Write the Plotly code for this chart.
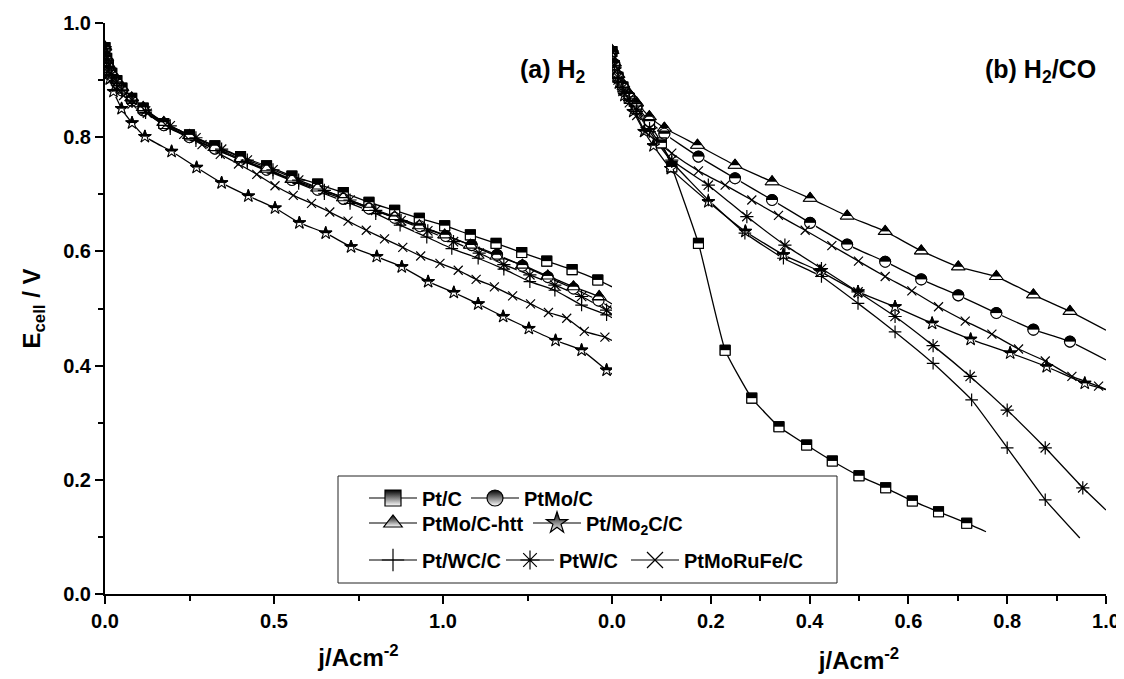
import plotly.graph_objects as go

# ---------------- data ----------------
# Panel (a): H2 feed, x = j / A cm^-2, y = Ecell / V ; last point of each list = line end (no marker)
A_PTC_X = [0.0, 0.005, 0.01, 0.02, 0.035, 0.05, 0.079, 0.113, 0.174, 0.250, 0.325, 0.401, 0.478, 0.553, 0.629, 0.705, 0.781, 0.857, 0.930, 1.005, 1.081, 1.157, 1.233, 1.307, 1.382, 1.458, 1.50]
A_PTC_Y = [0.957, 0.938, 0.926, 0.912, 0.899, 0.886, 0.868, 0.851, 0.824, 0.804, 0.785, 0.766, 0.750, 0.732, 0.718, 0.703, 0.686, 0.672, 0.658, 0.645, 0.629, 0.614, 0.598, 0.583, 0.568, 0.550, 0.538]
A_PTMO_X = [0.0, 0.005, 0.01, 0.02, 0.035, 0.05, 0.079, 0.113, 0.174, 0.250, 0.325, 0.401, 0.478, 0.553, 0.629, 0.705, 0.781, 0.857, 0.932, 1.008, 1.085, 1.160, 1.235, 1.310, 1.386, 1.460, 1.50]
A_PTMO_Y = [0.955, 0.935, 0.922, 0.908, 0.895, 0.882, 0.864, 0.847, 0.821, 0.800, 0.780, 0.760, 0.743, 0.725, 0.708, 0.692, 0.675, 0.659, 0.644, 0.627, 0.611, 0.594, 0.575, 0.555, 0.535, 0.514, 0.500]
A_HTT_X = [0.0, 0.005, 0.01, 0.02, 0.035, 0.05, 0.079, 0.113, 0.174, 0.250, 0.325, 0.401, 0.478, 0.553, 0.629, 0.705, 0.781, 0.857, 0.930, 1.005, 1.081, 1.159, 1.235, 1.310, 1.386, 1.462, 1.50]
A_HTT_Y = [0.958, 0.940, 0.927, 0.913, 0.900, 0.887, 0.869, 0.852, 0.826, 0.803, 0.782, 0.762, 0.744, 0.726, 0.711, 0.694, 0.677, 0.661, 0.645, 0.629, 0.611, 0.592, 0.576, 0.557, 0.538, 0.521, 0.508]
A_MO2C_X = [0.0, 0.006, 0.014, 0.025, 0.049, 0.080, 0.118, 0.197, 0.271, 0.345, 0.424, 0.503, 0.575, 0.653, 0.728, 0.804, 0.878, 0.956, 1.032, 1.104, 1.178, 1.254, 1.333, 1.410, 1.484, 1.50]
A_MO2C_Y = [0.955, 0.928, 0.902, 0.880, 0.850, 0.825, 0.801, 0.775, 0.747, 0.720, 0.697, 0.676, 0.650, 0.632, 0.608, 0.591, 0.573, 0.547, 0.528, 0.508, 0.486, 0.465, 0.444, 0.427, 0.392, 0.385]
A_WC_X = [0.0, 0.005, 0.01, 0.02, 0.035, 0.05, 0.08, 0.12, 0.193, 0.269, 0.345, 0.421, 0.497, 0.573, 0.649, 0.725, 0.801, 0.873, 0.952, 1.026, 1.104, 1.180, 1.257, 1.331, 1.410, 1.484, 1.50]
A_WC_Y = [0.955, 0.935, 0.922, 0.908, 0.894, 0.881, 0.862, 0.843, 0.815, 0.794, 0.774, 0.755, 0.737, 0.719, 0.701, 0.684, 0.666, 0.646, 0.625, 0.605, 0.588, 0.569, 0.547, 0.532, 0.506, 0.489, 0.484]
A_W_X = [0.0, 0.005, 0.01, 0.02, 0.035, 0.05, 0.08, 0.12, 0.193, 0.269, 0.345, 0.421, 0.497, 0.573, 0.649, 0.725, 0.801, 0.876, 0.955, 1.031, 1.107, 1.180, 1.257, 1.331, 1.410, 1.484, 1.50]
A_W_Y = [0.956, 0.937, 0.924, 0.910, 0.897, 0.884, 0.865, 0.846, 0.820, 0.799, 0.779, 0.760, 0.743, 0.725, 0.707, 0.690, 0.672, 0.654, 0.636, 0.617, 0.597, 0.577, 0.559, 0.541, 0.521, 0.497, 0.490]
A_RUFE_X = [0.0, 0.005, 0.01, 0.02, 0.035, 0.055, 0.08, 0.125, 0.179, 0.233, 0.287, 0.341, 0.395, 0.449, 0.503, 0.557, 0.611, 0.665, 0.719, 0.773, 0.827, 0.881, 0.934, 0.991, 1.045, 1.098, 1.152, 1.206, 1.259, 1.312, 1.366, 1.418, 1.479, 1.50]
A_RUFE_Y = [0.955, 0.932, 0.918, 0.902, 0.888, 0.873, 0.858, 0.842, 0.822, 0.805, 0.787, 0.770, 0.753, 0.735, 0.715, 0.698, 0.684, 0.669, 0.653, 0.637, 0.622, 0.607, 0.592, 0.579, 0.567, 0.551, 0.538, 0.522, 0.508, 0.493, 0.483, 0.460, 0.450, 0.444]

# Panel (b): H2/CO feed
B_PTC_X = [0.0, 0.005, 0.012, 0.022, 0.035, 0.05, 0.076, 0.100, 0.121, 0.175, 0.229, 0.283, 0.338, 0.394, 0.446, 0.500, 0.554, 0.608, 0.661, 0.718, 0.757]
B_PTC_Y = [0.950, 0.925, 0.905, 0.888, 0.868, 0.850, 0.822, 0.790, 0.748, 0.614, 0.427, 0.343, 0.293, 0.261, 0.233, 0.207, 0.186, 0.163, 0.144, 0.124, 0.109]
B_PTMO_X = [0.0, 0.005, 0.012, 0.022, 0.035, 0.05, 0.0756, 0.106, 0.175, 0.249, 0.324, 0.401, 0.476, 0.553, 0.626, 0.701, 0.778, 0.853, 0.927, 1.0]
B_PTMO_Y = [0.950, 0.928, 0.907, 0.889, 0.871, 0.854, 0.828, 0.806, 0.766, 0.728, 0.690, 0.650, 0.612, 0.582, 0.551, 0.523, 0.492, 0.463, 0.442, 0.410]
B_HTT_X = [0.0, 0.005, 0.012, 0.022, 0.035, 0.05, 0.0756, 0.106, 0.173, 0.249, 0.324, 0.401, 0.476, 0.553, 0.626, 0.701, 0.778, 0.853, 0.927, 1.0]
B_HTT_Y = [0.952, 0.930, 0.910, 0.893, 0.876, 0.860, 0.836, 0.816, 0.786, 0.751, 0.722, 0.693, 0.662, 0.635, 0.601, 0.573, 0.556, 0.524, 0.495, 0.462]
B_MO2C_X = [0.0, 0.006, 0.014, 0.025, 0.043, 0.065, 0.084, 0.119, 0.195, 0.270, 0.347, 0.421, 0.498, 0.573, 0.648, 0.726, 0.806, 0.880, 0.957, 1.0]
B_MO2C_Y = [0.948, 0.918, 0.895, 0.873, 0.845, 0.810, 0.785, 0.745, 0.687, 0.635, 0.594, 0.565, 0.529, 0.503, 0.474, 0.446, 0.422, 0.398, 0.369, 0.358]
B_WC_X = [0.0, 0.005, 0.012, 0.022, 0.035, 0.05, 0.076, 0.121, 0.195, 0.269, 0.347, 0.424, 0.498, 0.573, 0.650, 0.728, 0.800, 0.877, 0.947]
B_WC_Y = [0.950, 0.925, 0.903, 0.884, 0.864, 0.845, 0.810, 0.757, 0.690, 0.632, 0.588, 0.556, 0.509, 0.459, 0.404, 0.340, 0.256, 0.165, 0.098]
B_W_X = [0.0, 0.005, 0.012, 0.022, 0.035, 0.05, 0.076, 0.121, 0.195, 0.273, 0.350, 0.424, 0.498, 0.573, 0.650, 0.725, 0.800, 0.877, 0.953, 1.0]
B_W_Y = [0.950, 0.926, 0.905, 0.887, 0.867, 0.849, 0.815, 0.760, 0.716, 0.661, 0.611, 0.570, 0.529, 0.486, 0.435, 0.381, 0.322, 0.256, 0.186, 0.147]
B_RUFE_X = [0.0, 0.005, 0.012, 0.022, 0.035, 0.05, 0.067, 0.121, 0.175, 0.229, 0.283, 0.337, 0.391, 0.445, 0.499, 0.553, 0.607, 0.661, 0.715, 0.769, 0.823, 0.877, 0.931, 0.985, 1.0]
B_RUFE_Y = [0.950, 0.925, 0.900, 0.880, 0.860, 0.838, 0.810, 0.772, 0.741, 0.716, 0.690, 0.663, 0.637, 0.610, 0.583, 0.556, 0.531, 0.503, 0.478, 0.455, 0.429, 0.408, 0.381, 0.364, 0.358]

NAMES = ["Pt/C", "PtMo/C", "PtMo/C-htt", "Pt/Mo<sub>2</sub>C/C", "Pt/WC/C", "PtW/C", "PtMoRuFe/C"]
X_TICKS_A = [0.0, 0.5, 1.0]
X_MINOR_A = [0.25, 0.75, 1.25]
X_TITLE = "j/Acm<sup>-2</sup>"
Y_TITLE = "E<sub>cell</sub> / V"
PANEL_LABELS = ["(a) H<sub>2</sub>", "(b) H<sub>2</sub>/CO"]

# ---------------- layout geometry (page pixels; page body has an 8 px margin) ----------------
OFF = 8
PAGE_W, PAGE_H = 1124, 679
PL, PR, PT, PB = 105, 1106, 23, 594      # plot area in page pixels
W, H = PAGE_W - OFF, PAGE_H - OFF
ML, MT = PL - OFF, PT - OFF
MR = W - (PR - OFF)
MB = H - (PB - OFF)
PW = PR - PL
PH = PB - PT
XDIV = (612 - PL) / PW
FONT = "Liberation Sans, Arial, Helvetica, sans-serif"
BLACK = "#000000"


def sr(px):
    d = px / PH
    return [d, 1 + d]


def px_x(p):
    return (p - PL) / PW


def px_y(p):
    return (PB - p) / PH


# style per series: symbol, size, half-fill axis, bar length (px), bar thickness (px)
STYLES = [
    dict(sym="square", size=10, half=("y4", 10.0, 5.0)),
    dict(sym="circle", size=11, half=("y5", 11.5, 5.5)),
    dict(sym="triangle-up", size=12, half=("y6", 13.9, 3.0)),
    dict(sym="star", size=9.5, half=("y5", 8.2, 5.4)),
    dict(sym="cross-thin-open", size=9, half=None),
    dict(sym="asterisk-open", size=11, half=None),
    dict(sym="x-thin-open", size=9, half=None),
]
DATA_A = [(A_PTC_X, A_PTC_Y), (A_PTMO_X, A_PTMO_Y), (A_HTT_X, A_HTT_Y), (A_MO2C_X, A_MO2C_Y),
          (A_WC_X, A_WC_Y), (A_W_X, A_W_Y), (A_RUFE_X, A_RUFE_Y)]
DATA_B = [(B_PTC_X, B_PTC_Y), (B_PTMO_X, B_PTMO_Y), (B_HTT_X, B_HTT_Y), (B_MO2C_X, B_MO2C_Y),
          (B_WC_X, B_WC_Y), (B_W_X, B_W_Y), (B_RUFE_X, B_RUFE_Y)]

fig = go.Figure()

for xa, data in (("x", DATA_A), ("x2", DATA_B)):
    for (xs, ys) in data:
        fig.add_trace(go.Scatter(x=xs, y=ys, xaxis=xa, yaxis="y", mode="lines",
                                 line=dict(color=BLACK, width=1.3, shape="spline", smoothing=0.4),
                                 showlegend=False, hoverinfo="skip"))
    for (xs, ys), st in zip(data, STYLES):
        if st["half"]:
            fig.add_trace(go.Scatter(x=xs[:-1], y=ys[:-1], xaxis=xa, yaxis="y", mode="markers",
                                     marker=dict(symbol=st["sym"], size=st["size"], color=BLACK,
                                                 line=dict(color=BLACK, width=1)),
                                     showlegend=False, hoverinfo="skip"))
    for (xs, ys), st in zip(data, STYLES):
        if st["half"]:
            ax, blen, bth = st["half"]
            fig.add_trace(go.Scatter(x=xs[:-1], y=ys[:-1], xaxis=xa, yaxis=ax, mode="markers",
                                     marker=dict(symbol="line-ew", size=blen / 1.4, color="white",
                                                 line=dict(color="white", width=bth)),
                                     showlegend=False, hoverinfo="skip"))
    for (xs, ys), st in zip(data, STYLES):
        if st["half"]:
            sym = st["sym"] + "-open"
            lw = 1.1
        else:
            sym = st["sym"]
            lw = 1.2
        fig.add_trace(go.Scatter(x=xs[:-1], y=ys[:-1], xaxis=xa, yaxis="y7", mode="markers",
                                 marker=dict(symbol=sym, size=st["size"], color=BLACK,
                                             line=dict(color=BLACK, width=lw)),
                                 showlegend=False, hoverinfo="skip"))

# one legend per entry so that each can be placed like the reference (3 rows: 2 / 2 / 3)
LEG_KEYS = ["legend", "legend2", "legend3", "legend4", "legend5", "legend6", "legend7"]
LEG_POS = [(368, 498), (470, 498), (368, 523), (532, 523), (368, 560), (505, 560), (630, 560)]
for name, st, lg in zip(NAMES, STYLES, LEG_KEYS):
    mk = dict(symbol=st["sym"], size=16, color=BLACK, line=dict(color=BLACK, width=1.2))
    if st["half"]:
        mk["gradient"] = dict(type="vertical", color="white")
    fig.add_trace(go.Scatter(x=[None], y=[None], xaxis="x", yaxis="y", mode="lines+markers",
                             name=name, legend=lg, line=dict(color=BLACK, width=1.2), marker=mk))

tickfont = dict(family=FONT, size=20, color=BLACK, weight="bold")
titlefont = dict(family=FONT, size=24, color=BLACK, weight="bold")
common = dict(showgrid=False, zeroline=False, linecolor=BLACK, linewidth=2, tickcolor=BLACK,
              tickwidth=1.5, automargin=False)

fig.update_layout(
    template="none",
    width=W, height=H, autosize=False,
    margin=dict(l=ML, r=MR, t=MT, b=MB, pad=0, autoexpand=False),
    paper_bgcolor="white", plot_bgcolor="white",
    font=dict(family=FONT, color=BLACK),
    xaxis=dict(domain=[0, XDIV], range=[0, 1.5], anchor="y", showline=True, ticks="outside",
               ticklen=8, tickmode="array", tickvals=X_TICKS_A, tickformat=".1f", tickfont=tickfont,
               minor=dict(tickmode="array", tickvals=X_MINOR_A, ticks="outside", ticklen=5,
                          tickwidth=1.5, tickcolor=BLACK),
               title=dict(text=X_TITLE, font=titlefont, standoff=18), **common),
    xaxis2=dict(domain=[XDIV, 1], range=[0, 1.0], anchor="y", showline=True, ticks="outside",
                ticklen=8, dtick=0.2, tick0=0, tickformat=".1f", tickfont=tickfont,
                minor=dict(dtick=0.1, ticks="outside", ticklen=5, tickwidth=1.5, tickcolor=BLACK),
                title=dict(text=X_TITLE, font=titlefont, standoff=21), **common),
    xaxis3=dict(overlaying="x", side="top", anchor="y", range=[0, 1.5], showline=True,
                ticks="inside", ticklen=7, dtick=0.25, tick0=0, showticklabels=False, **common),
    xaxis4=dict(overlaying="x2", side="top", anchor="y", range=[0, 1.0], showline=True,
                ticks="inside", ticklen=7, dtick=0.1, tick0=0, showticklabels=False, **common),
    yaxis=dict(domain=[0, 1], range=[0, 1.0], anchor="x", showline=True, ticks="outside",
               ticklen=8, dtick=0.2, tick0=0, tickformat=".1f", tickfont=tickfont,
               minor=dict(dtick=0.1, ticks="outside", ticklen=5, tickwidth=1.5, tickcolor=BLACK),
               title=dict(text=Y_TITLE, font=titlefont, standoff=16), **common),
    yaxis2=dict(overlaying="y", side="right", anchor="x", range=[0, 1.0], showline=True,
                ticks="inside", ticklen=7, dtick=0.1, tick0=0, showticklabels=False, **common),
    yaxis3=dict(overlaying="y", side="right", anchor="x2", range=[0, 0.9], showline=True,
                ticks="inside", ticklen=7, dtick=0.1, tick0=0, showticklabels=False, **common),
    yaxis4=dict(overlaying="y", anchor="x", range=sr(2.5), visible=False),
    yaxis5=dict(overlaying="y", anchor="x", range=sr(2.75), visible=False),
    yaxis6=dict(overlaying="y", anchor="x", range=sr(1.5), visible=False),
    yaxis7=dict(overlaying="y", anchor="x", range=[0, 1.0], visible=False),
    showlegend=True,
)

legfont = dict(family=FONT, size=20, color=BLACK, weight="bold")
for key, (lx, ly) in zip(LEG_KEYS, LEG_POS):
    fig.update_layout(**{key: dict(x=px_x(lx - 4), y=px_y(ly), xanchor="left", yanchor="middle",
                                   orientation="h", bgcolor="rgba(0,0,0,0)", borderwidth=0,
                                   font=legfont, itemwidth=48, tracegroupgap=0,
                                   traceorder="normal")})

fig.add_shape(type="rect", xref="paper", yref="paper",
              x0=px_x(338), x1=px_x(837), y0=px_y(583), y1=px_y(476),
              line=dict(color="#222222", width=1), fillcolor="rgba(0,0,0,0)", layer="above")

for txt, xp in zip(PANEL_LABELS, [588, 1098]):
    fig.add_annotation(text=txt, xref="paper", yref="paper", x=px_x(xp), y=px_y(71),
                       xanchor="right", yanchor="middle", showarrow=False,
                       font=dict(family=FONT, size=25, color=BLACK, weight="bold"))

fig.write_html("out.html")
